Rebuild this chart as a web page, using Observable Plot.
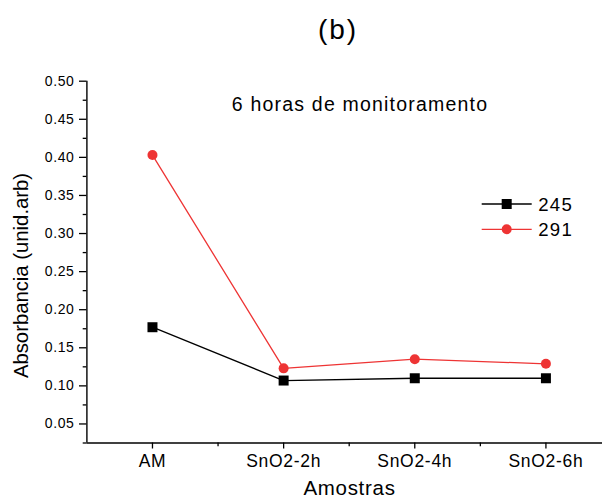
<!DOCTYPE html>
<html><head><meta charset="utf-8">
<script src="https://cdn.jsdelivr.net/npm/d3@7"></script>
<script src="https://cdn.jsdelivr.net/npm/@observablehq/plot@0.6"></script>
<style>html,body{margin:0;padding:0;background:#fff;overflow:hidden}</style>
</head><body><div id="chart"></div>
<script>
const categories = ["AM", "SnO2-2h", "SnO2-4h", "SnO2-6h"];
const series245 = [0.177, 0.107, 0.110, 0.110];
const series291 = [0.403, 0.123, 0.135, 0.129];
const seriesNames = ["245", "291"];
const yTicks = [0.05, 0.10, 0.15, 0.20, 0.25, 0.30, 0.35, 0.40, 0.45, 0.50];
const yMinorTicks = [0.025, 0.075, 0.125, 0.175, 0.225, 0.275, 0.325, 0.375, 0.425, 0.475];
const xMinorTicks = [0.5, 1.5, 2.5];
const titleText = "(b)";
const subtitleText = "6 horas de monitoramento";
const xLabelText = "Amostras";
const yLabelText = "Absorbancia (unid.arb)";

const RED = "#ee3434";
const FONT = "'Liberation Sans', Arial, Helvetica, sans-serif";

const rows245 = categories.map((c, i) => ({i, cat: c, v: series245[i]}));
const rows291 = categories.map((c, i) => ({i, cat: c, v: series291[i]}));

const chart = Plot.plot({
  width: 602,
  height: 499,
  marginLeft: 86.4,
  marginRight: 0,
  marginTop: 80.7,
  marginBottom: 56.5,
  style: {fontFamily: FONT, background: "white", color: "#000", overflow: "visible"},
  x: {domain: [-0.5, 3.5], range: [86.4, 611]},
  y: {domain: [0.025, 0.5]},
  marks: [
    Plot.axisY(yTicks, {anchor: "left", tickSize: 7.4, tickPadding: 5, tickFormat: d3.format(".2f"), fontSize: 14, strokeWidth: 1.3, label: null}),
    Plot.axisY(yMinorTicks, {anchor: "left", tickSize: 3.7, tickFormat: () => "", strokeWidth: 1.3, label: null}),
    Plot.axisX([0, 1, 2, 3], {anchor: "bottom", tickSize: 6, tickPadding: 5.5, tickFormat: i => categories[i], fontSize: 17.5, strokeWidth: 1.3, label: null}),
    Plot.axisX(xMinorTicks, {anchor: "bottom", tickSize: 3.7, tickFormat: () => "", strokeWidth: 1.3, label: null}),
    Plot.ruleY([0.025], {stroke: "#000", strokeWidth: 1.4}),
    Plot.ruleX([-0.5], {stroke: "#000", strokeWidth: 1.4}),
    Plot.lineY(rows245, {x: "i", y: "v", stroke: "#000", strokeWidth: 1.3}),
    Plot.lineY(rows291, {x: "i", y: "v", stroke: RED, strokeWidth: 1.3}),
    Plot.dot(rows245, {x: "i", y: "v", symbol: "square", r: 5.64, fill: "#000", stroke: "none"}),
    Plot.dot(rows291, {x: "i", y: "v", symbol: "circle", r: 5, fill: RED, stroke: "none"})
  ]
});

document.getElementById("chart").appendChild(chart);
const svg = d3.select(chart);
svg.selectAll('g[aria-label="y-axis tick label"] text').style("letter-spacing", "0.6px");
svg.selectAll('g[aria-label="x-axis tick label"] text').style("letter-spacing", "0.7px");

// title
svg.append("text").attr("x", 338).attr("y", 39).attr("text-anchor", "middle")
  .style("font-size", "28px").style("letter-spacing", "2px").style("font-family", FONT)
  .attr("fill", "#000").text(titleText);
// subtitle inside plot
svg.append("text").attr("x", 360).attr("y", 111).attr("text-anchor", "middle")
  .style("font-size", "19.5px").style("letter-spacing", "1.2px").style("font-family", FONT)
  .attr("fill", "#000").text(subtitleText);
// y label
svg.append("text").attr("transform", "translate(27.8,275.5) rotate(-90)").attr("text-anchor", "middle")
  .style("font-size", "20.3px").style("font-family", FONT).attr("fill", "#000").text(yLabelText);
// x label
svg.append("text").attr("x", 349.5).attr("y", 495).attr("text-anchor", "middle")
  .style("font-size", "20.5px").style("letter-spacing", "0.7px").style("font-family", FONT)
  .attr("fill", "#000").text(xLabelText);

// legend
const lg = svg.append("g");
const legendItems = [
  {name: seriesNames[0], color: "#000", shape: "square", y: 204},
  {name: seriesNames[1], color: RED, shape: "circle", y: 229.3}
];
legendItems.forEach(it => {
  lg.append("line").attr("x1", 481.7).attr("x2", 531.7).attr("y1", it.y).attr("y2", it.y)
    .attr("stroke", it.color).attr("stroke-width", 1.3);
  if (it.shape === "square") {
    lg.append("rect").attr("x", 506.7 - 5).attr("y", it.y - 5).attr("width", 10).attr("height", 10).attr("fill", it.color);
  } else {
    lg.append("circle").attr("cx", 506.7).attr("cy", it.y).attr("r", 5).attr("fill", it.color);
  }
  lg.append("text").attr("x", 538.3).attr("y", it.y + 6.8).attr("text-anchor", "start")
    .style("font-size", "18.6px").style("letter-spacing", "1.2px").style("font-family", FONT)
    .attr("fill", "#000").text(it.name);
});
</script></body></html>
